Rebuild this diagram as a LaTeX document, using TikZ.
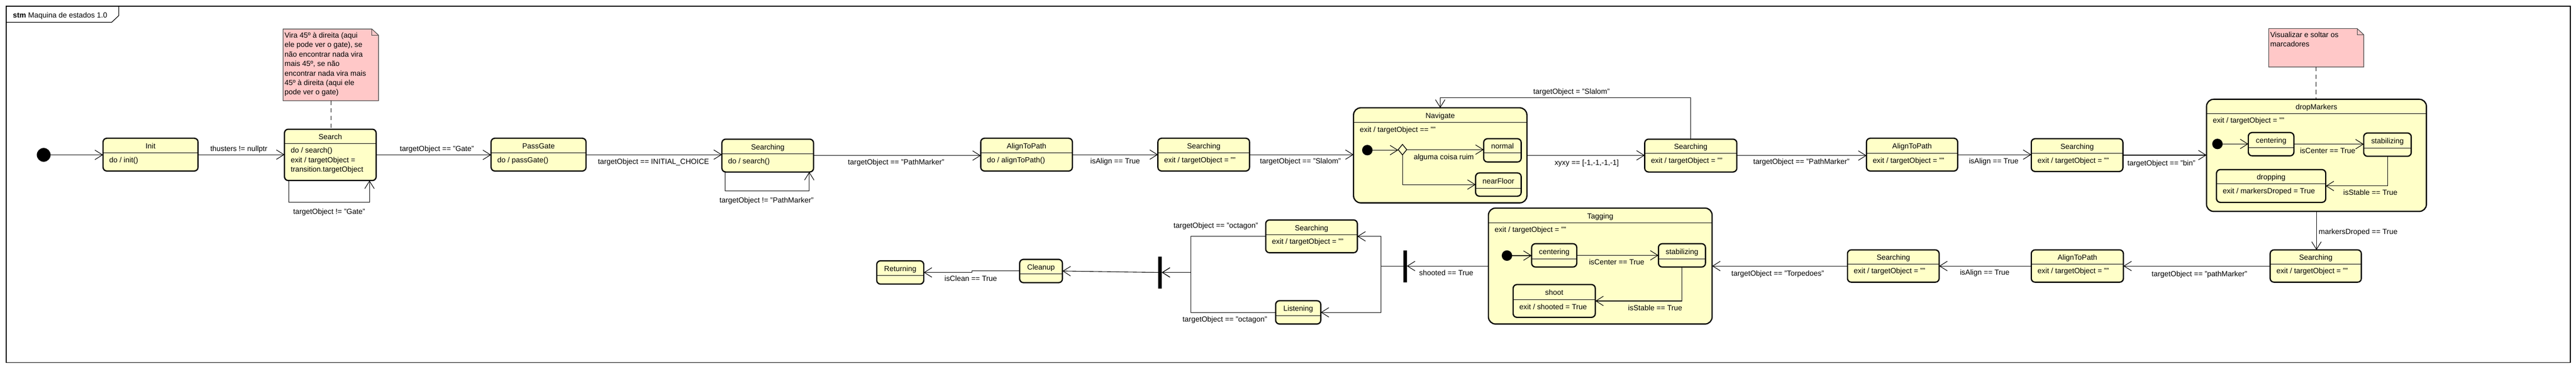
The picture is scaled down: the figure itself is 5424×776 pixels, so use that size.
\documentclass[tikz,border=0pt]{standalone}
\usepackage{fontspec}
\setmainfont{Liberation Sans}
\usetikzlibrary{arrows.meta,shapes.geometric}
\definecolor{stfill}{HTML}{FFFFC8}
\definecolor{notefill}{HTML}{FFC8C8}
\newcommand{\dfont}{\fontsize{15.6}{20}\selectfont}
\tikzset{
  stbox/.style={shape=rectangle, draw=black, line width=2.6pt, fill=stfill, rounded corners=8pt, inner sep=0pt, outer sep=0pt},
  compbox/.style={stbox, rounded corners=15pt},
  divline/.style={draw=black, line width=1pt},
  tr/.style={draw=black, line width=1.2pt, -{Straight Barb[length=16pt,width=20pt]}},
  lbl/.style={anchor=base, inner sep=0pt},
  lblw/.style={anchor=base west, inner sep=0pt},
  txt/.style={anchor=base west, inner sep=0pt},
  ttl/.style={anchor=base, inner sep=0pt},
  initdot/.style={circle, fill=black, inner sep=0pt, outer sep=0pt},
  barnode/.style={rectangle, fill=black, inner sep=0pt, outer sep=0pt, minimum width=7.5pt},
  notebody/.style={fill=notefill, draw=black!75, line width=1.2pt},
  notelink/.style={draw=black, line width=1.2pt, dash pattern=on 9pt off 7pt},
  choice/.style={diamond, draw=black, line width=1.5pt, fill=stfill, inner sep=0pt, outer sep=0pt, minimum width=18pt, minimum height=22pt},
  frameline/.style={draw=black, line width=1.6pt},
}
% #1 style, #2 name, #3 x1, #4 y1, #5 x2, #6 y2, #7 divider y, #8 title
\newcommand{\mkstate}[8][stbox]{%
  \node[#1, minimum width={(#5-#3)*1pt}, minimum height={(#6-#4)*1pt}] (#2) at ({(#3+#5)/2},{(#4+#6)/2}) {};
  \draw[divline] (#3,#7) -- (#5,#7);
  \node[ttl] (#2-title) at ({(#3+#5)/2},{(#4+#7)/2+6.5}) {#8};
}
\newcommand{\mkbody}[4]{\node[txt] (#1) at ({#2+13},{#3+20}) {#4};}
% #1 name, #2 x1, #3 y1, #4 x2, #5 y2
\newcommand{\mknote}[5]{%
  \node[inner sep=0pt, outer sep=0pt, minimum width={(#4-#2)*1pt}, minimum height={(#5-#3)*1pt}] (#1) at ({(#2+#4)/2},{(#3+#5)/2}) {};
  \filldraw[notebody] (#2,#3) -- ({#4-14},#3) -- (#4,{#3+13}) -- (#4,#5) -- (#2,#5) -- cycle;
  \draw[notebody, fill=none] ({#4-14},#3) -- ({#4-14},{#3+13}) -- (#4,{#3+13});
}
\begin{document}
\begin{tikzpicture}[x=1pt, y=-1pt, every node/.style={font=\dfont}]
\useasboundingbox (0,0) rectangle (5424,776);
\fill[white] (0,0) rectangle (5424,776);

% frame
\draw[frameline] (13,13) rectangle (5412,763);
\draw[frameline, line width=1.3pt] (13,47) -- (235,47) -- (250,33) -- (250,13);
\node[txt] (frametitle) at (27,37.5) {\textbf{stm} Maquina de estados 1.0};

% notes
\mknote{note1}{596}{61}{797}{212}
\node[txt] (n1a) at (599,79.5) {Vira 45º à direita (aqui};
\node[txt] (n1b) at (599,99.5) {ele pode ver o gate), se};
\node[txt] (n1c) at (599,119.5) {não encontrar nada vira};
\node[txt] (n1d) at (599,139.5) {mais 45º, se não};
\node[txt] (n1e) at (599,159.5) {encontrar nada vira mais};
\node[txt] (n1f) at (599,179.5) {45º à direita (aqui ele};
\node[txt] (n1g) at (599,199.5) {pode ver o gate)};

\mknote{note2}{4777}{60}{4977}{141}
\node[txt] (n2a) at (4780,78.5) {Visualizar e soltar os};
\node[txt] (n2b) at (4780,98.5) {marcadores};

% states - top row
\node[initdot, minimum size=29pt] (start) at (92,326) {};
\mkstate{init}{217}{291}{417}{360}{322}{Init}
\mkbody{init-b}{217}{322}{do / init()}

\mkstate{search}{599}{272}{792}{380}{302}{Search}
\node[txt] (search-b1) at (612,322) {do / search()};
\node[txt] (search-b2) at (612,342) {exit / targetObject =};
\node[txt] (search-b3) at (612,362) {transition.targetObject};

\mkstate{passgate}{1034}{291}{1234}{360}{322}{PassGate}
\mkbody{passgate-b}{1034}{322}{do / passGate()}

\mkstate{srchA}{1520}{293}{1713}{362}{324}{Searching}
\mkbody{srchA-b}{1520}{324}{do / search()}

\mkstate{alignA}{2065}{291}{2258}{360}{322}{AlignToPath}
\mkbody{alignA-b}{2065}{322}{do / alignToPath()}

\mkstate{srchB}{2438}{291}{2631}{360}{322}{Searching}
\mkbody{srchB-b}{2438}{322}{exit / targetObject = ""}

\mkstate[compbox]{nav}{2850}{227}{3215}{427}{258}{Navigate}
\mkbody{nav-b}{2850}{258}{exit / targetObject == ""}
\node[initdot, minimum size=22pt] (navdot) at (2879,316) {};
\node[choice] (navch) at (2953,315) {};
\mkstate{normal}{3124}{292}{3203}{341}{322}{normal}
\mkstate{nearfloor}{3107}{364}{3203}{413}{396}{nearFloor}

\mkstate{srchC}{3463}{293}{3657}{362}{323}{Searching}
\mkbody{srchC-b}{3463}{323}{exit / targetObject = ""}

\mkstate{alignB}{3930}{291}{4122}{360}{323}{AlignToPath}
\mkbody{alignB-b}{3930}{323}{exit / targetObject = ""}

\mkstate{srchD}{4277}{292}{4470}{361}{323}{Searching}
\mkbody{srchD-b}{4277}{323}{exit / targetObject = ""}

\mkstate[compbox]{drop}{4646}{209}{5109}{445}{239}{dropMarkers}
\mkbody{drop-b}{4646}{239}{exit / targetObject = ""}
\node[initdot, minimum size=22pt] (dropdot) at (4669,303) {};
\mkstate{dcent}{4734}{279}{4830}{328}{311}{centering}
\mkstate{dstab}{4977}{280}{5077}{329}{312}{stabilizing}
\mkstate{dropping}{4667}{357}{4897}{426}{387}{dropping}
\mkbody{dropping-b}{4667}{387}{exit / markersDroped = True}

% bottom row
\mkstate{srchE}{4780}{526}{4972}{594}{556}{Searching}
\mkbody{srchE-b}{4780}{556}{exit / targetObject = ""}

\mkstate{alignC}{4277}{526}{4471}{594}{556}{AlignToPath}
\mkbody{alignC-b}{4277}{556}{exit / targetObject = ""}

\mkstate{srchF}{3890}{526}{4083}{594}{556}{Searching}
\mkbody{srchF-b}{3890}{556}{exit / targetObject = ""}

\mkstate[compbox]{tag}{3134}{438}{3605}{682}{469}{Tagging}
\mkbody{tag-b}{3134}{469}{exit / targetObject = ""}
\node[initdot, minimum size=22pt] (tagdot) at (3173,538) {};
\mkstate{tcent}{3225}{513}{3320}{562}{545}{centering}
\mkstate{tstab}{3492}{513}{3591}{562}{545}{stabilizing}
\mkstate{shoot}{3186}{599}{3359}{668}{631}{shoot}
\mkbody{shoot-b}{3186}{631}{exit / shooted = True}

\node[barnode, minimum height=67pt] (fork) at (2958.5,560.5) {};
\mkstate{srchG}{2665}{463}{2858}{532}{494}{Searching}
\mkbody{srchG-b}{2665}{494}{exit / targetObject = ""}
\mkstate{listen}{2686}{633}{2781}{682}{664}{Listening}
\node[barnode, minimum height=67pt] (join) at (2442.5,573.5) {};
\mkstate{cleanup}{2147}{546}{2237}{595}{577}{Cleanup}
\mkstate{returning}{1846}{549}{1945}{598}{580}{Returning}

% note links
\draw[notelink] (note1.south) -- (note1.south |- search.north);
\draw[notelink] (note2.south) -- (note2.south |- drop.north);

% transitions top row
\draw[tr] (start.east) -- (start.east -| init.west);
\draw[tr] (init.east) -- (init.east -| search.west);
\node[lbl] (l1) at (503,318.5) {thusters != nullptr};
\draw[tr] ([xshift=9pt]search.south west) -- ++(0,46) -| ([xshift=-14pt]search.south east);
\node[lbl] (l2) at (693,450.5) {targetObject != "Gate"};
\draw[tr] (search.east) -- (search.east -| passgate.west);
\node[lbl] (l3) at (920,318.5) {targetObject == "Gate"};
\draw[tr] (passgate.east) -- (passgate.east -| srchA.west);
\node[lbl] (l4) at (1376,345.5) {targetObject == INITIAL\_CHOICE};
\draw[tr] ([xshift=7pt]srchA.south west) -- ++(0,40) -| ([xshift=-9pt]srchA.south east);
\node[lbl] (l5) at (1614,426.5) {targetObject != "PathMarker"};
\draw[tr] (srchA.east) -- (srchA.east -| alignA.west);
\node[lbl] (l6) at (1887,346.5) {targetObject == "PathMarker"};
\draw[tr] (alignA.east) -- (alignA.east -| srchB.west);
\node[lbl] (l7) at (2348,344.5) {isAlign == True};
\draw[tr] (srchB.east) -- (srchB.east -| nav.west);
\node[lbl] (l8) at (2738,344.5) {targetObject == "Slalom"};
\draw[tr] (navdot.east) -- (navdot.east -| navch.west);
\draw[tr] (navch.east) -- (navch.east -| normal.west);
\node[lbl] (l9) at (3040,335.5) {alguma coisa ruim};
\draw[tr] (navch.south) |- (nearfloor.west);
\draw[tr] (nav.east) -- (nav.east -| srchC.west);
\node[lbl] (l10) at (3341,347.5) {xyxy == [-1,-1,-1,-1]};
\draw[tr] (srchC.north) -- ++(0,-87) -| (nav.north);
\node[lbl] (l11) at (3309,198.5) {targetObject = "Slalom"};
\draw[tr] (srchC.east) -- (srchC.east -| alignB.west);
\node[lbl] (l12) at (3793,345.5) {targetObject == "PathMarker"};
\draw[tr] (alignB.east) -- (alignB.east -| srchD.west);
\node[lbl] (l13) at (4198,344.5) {isAlign == True};
\draw[tr] (srchD.east) -- (srchD.east -| drop.west);
\node[lbl] (l14) at (4551,348.5) {targetObject == "bin"};
\draw[tr] (dropdot.east) -- (dropdot.east -| dcent.west);
\draw[tr] (dcent.east) -- (dcent.east -| dstab.west);
\node[lbl] (l15) at (4901,322.5) {isCenter == True};
\draw[tr] (dstab.south) |- (dropping.east);
\node[lbl] (l16) at (4991,410.5) {isStable == True};

% transitions bottom row
\draw[tr] (drop.south) -- (drop.south |- srchE.north);
\node[lblw] (l17) at (4882,492.5) {markersDroped == True};
\draw[tr] (srchE.west) -- (srchE.west -| alignC.east);
\node[lbl] (l18) at (4631,582.5) {targetObject == "pathMarker"};
\draw[tr] (alignC.west) -- (alignC.west -| srchF.east);
\node[lbl] (l19) at (4179,578.5) {isAlign == True};
\draw[tr] (srchF.west) -- (srchF.west -| tag.east);
\node[lbl] (l20) at (3743,580.5) {targetObject == "Torpedoes"};
\draw[tr] (tagdot.east) -- (tagdot.east -| tcent.west);
\draw[tr] (tcent.east) -- (tcent.east -| tstab.west);
\node[lbl] (l21) at (3404,557.5) {isCenter == True};
\draw[tr] (tstab.south) |- (shoot.east);
\node[lbl] (l22) at (3485,653.5) {isStable == True};
\draw[tr] (tag.west) -- (tag.west -| fork.east);
\node[lblw] (l23) at (2988,579.5) {shooted == True};
\draw[tr] (fork.west) -- ++(-47,0) |- (srchG.east);
\draw[tr] (fork.west) -- ++(-47,0) |- (listen.east);
\draw[tr] (srchG.west) -- ++(-158,0) |- (join.east);
\node[lbl] (l24) at (2560,480.5) {targetObject == "octagon"};
\draw[tr] (listen.west) -- ++(-179,0) |- (join.east);
\node[lbl] (l25) at (2579,677.5) {targetObject == "octagon"};
\draw[tr] (join.west) -- (cleanup.east);
\draw[tr] (cleanup.west) -- ++(-101,0) |- (returning.east);
\node[lbl] (l26) at (2044,591.5) {isClean == True};
\end{tikzpicture}
\end{document}
